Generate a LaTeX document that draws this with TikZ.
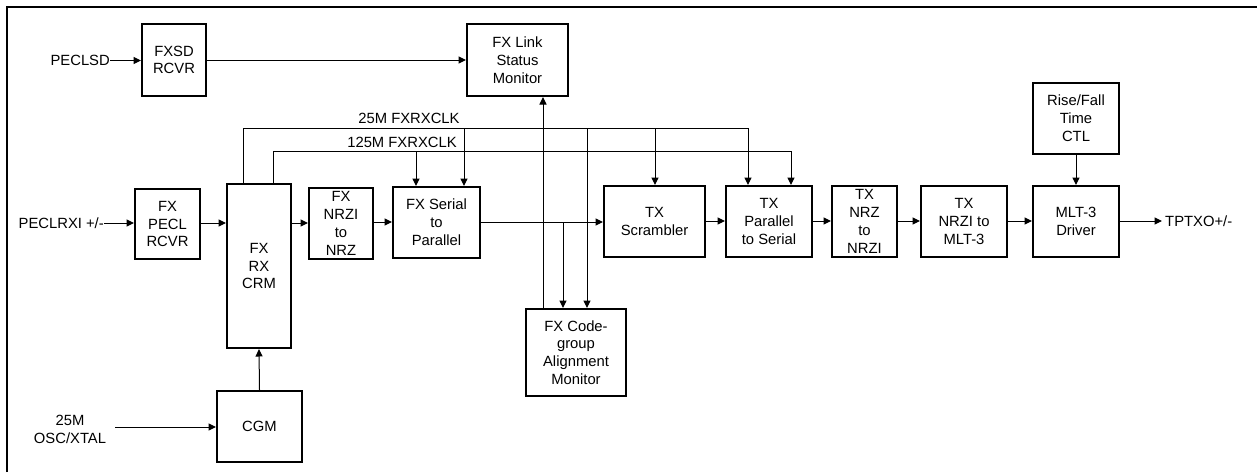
\documentclass[tikz,border=0pt]{standalone}
\usepackage{fontspec}
\setmainfont{Liberation Sans}
\usetikzlibrary{arrows.meta}
\begin{document}
\begin{tikzpicture}[x=1pt,y=-1pt,
  every node/.style={font=\fontsize{14.8}{17.8}\selectfont, align=center, inner sep=0pt},
  blk/.style={draw, line width=2pt, rectangle},
  arr/.style={line width=1pt, -{Triangle[length=7.5pt,width=7pt]}},
  ln/.style={line width=1pt}]
\useasboundingbox (0,0) rectangle (1257,472);
\draw[line width=2pt] (7,472) -- (7,7) -- (1257,7);
% boxes
\node[blk, minimum width=64pt, minimum height=72pt] (sd) at (174,60) {FXSD\\RCVR};
\node[blk, minimum width=101pt, minimum height=72pt] (lsm) at (517.5,60) {FX Link\\Status\\Monitor};
\node[blk, minimum width=65pt, minimum height=70pt] (pecl) at (167.5,224) {FX\\PECL\\RCVR};
\node[blk, minimum width=64pt, minimum height=164pt] (crm) at (259,266) {FX\\RX\\CRM};
\node[blk, minimum width=64pt, minimum height=71pt] (nrzi) at (341,223.5) {FX\\NRZI\\to\\NRZ};
\node[blk, minimum width=87pt, minimum height=71pt] (s2p) at (436.5,222.5) {FX Serial\\to\\Parallel};
\node[blk, minimum width=101pt, minimum height=71pt] (scr) at (654.5,221.5) {TX\\Scrambler};
\node[blk, minimum width=86pt, minimum height=71pt] (p2s) at (769,221.5) {TX\\Parallel\\to Serial};
\node[blk, minimum width=65pt, minimum height=71pt] (nrz) at (864.5,221.5) {TX\\NRZ\\to\\NRZI};
\node[blk, minimum width=86pt, minimum height=71pt] (mlt) at (964,221.5) {TX\\NRZI to\\MLT-3};
\node[blk, minimum width=86pt, minimum height=71pt] (drv) at (1076,221.5) {MLT-3\\Driver};
\node[blk, minimum width=86pt, minimum height=71pt] (rf) at (1076,118.5) {Rise/Fall\\Time\\CTL};
\node[blk, minimum width=100pt, minimum height=87pt] (cga) at (576,352.5) {FX Code-\\group\\Alignment\\Monitor};
\node[blk, minimum width=85pt, minimum height=71pt] (cgm) at (259.5,426.5) {CGM};
% external labels
\node[anchor=east] (pecllsd) at (110,60.5) {PECLSD};
\node[anchor=east] (peclrxi) at (104,223) {PECLRXI +/-};
\node (osc) at (70,429.5) {25M\\OSC/XTAL};
\node[anchor=west] (tptxo) at (1165,221) {TPTXO+/-};
\node (l25) at (409,118) {25M FXRXCLK};
\node (l125) at (402,142) {125M FXRXCLK};
\coordinate (oscend) at (115,427);
\coordinate (tpend) at (1162,221);
% coordinates for clock buses
\coordinate (c25a) at (243,128);
\coordinate (c25b) at (748,128);
\coordinate (c125a) at (273,151);
\coordinate (c125b) at (791,151);
\coordinate (brS) at (563,222);
% main arrows
\draw[arr] (pecllsd.east) -- (sd.west |- pecllsd.east);
\draw[arr] (sd.east) -- (lsm.west);
\draw[arr] (peclrxi.east) -- (pecl.west |- peclrxi.east);
\draw[arr] (pecl.east |- 0,223) -- (crm.west |- 0,223);
\draw[arr] (crm.east |- 0,223) -- (nrzi.west |- 0,223);
\draw[arr] (nrzi.east |- 0,222) -- (s2p.west |- 0,222);
\draw[arr] (s2p.east |- 0,222) -- (scr.west |- 0,222);
\draw[arr] (scr.east |- 0,221) -- (p2s.west |- 0,221);
\draw[arr] (p2s.east |- 0,221) -- (nrz.west |- 0,221);
\draw[arr] (nrz.east |- 0,221) -- (mlt.west |- 0,221);
\draw[arr] (mlt.east |- 0,221) -- (drv.west |- 0,221);
\draw[arr] (drv.east |- 0,221) -- (tpend);
\draw[arr] (rf.south) -- (drv.north);
\draw[arr] (oscend) -- (cgm.west |- oscend);
\draw[arr] (cgm.north) -- (crm.south);
% 25M clock
\draw[ln] (crm.north -| c25a) -- (c25a) -- (c25b);
\draw[arr] (c25b) -- (p2s.north -| c25b);
\draw[arr] (464,128) -- (s2p.north -| 464,0);
\draw[arr] (587,128) -- (cga.north -| 587,0);
\draw[arr] (655,128) -- (scr.north -| 655,0);
% 125M clock
\draw[ln] (crm.north -| c125a) -- (c125a) -- (c125b);
\draw[arr] (c125b) -- (p2s.north -| c125b);
\draw[arr] (416,151) -- (s2p.north -| 416,0);
% branch from serial-to-parallel output
\draw[arr] (brS) -- (cga.north -| brS);
% code-group to link status
\draw[arr] (cga.north -| 543,0) -- (lsm.south -| 543,0);
\end{tikzpicture}
\end{document}
